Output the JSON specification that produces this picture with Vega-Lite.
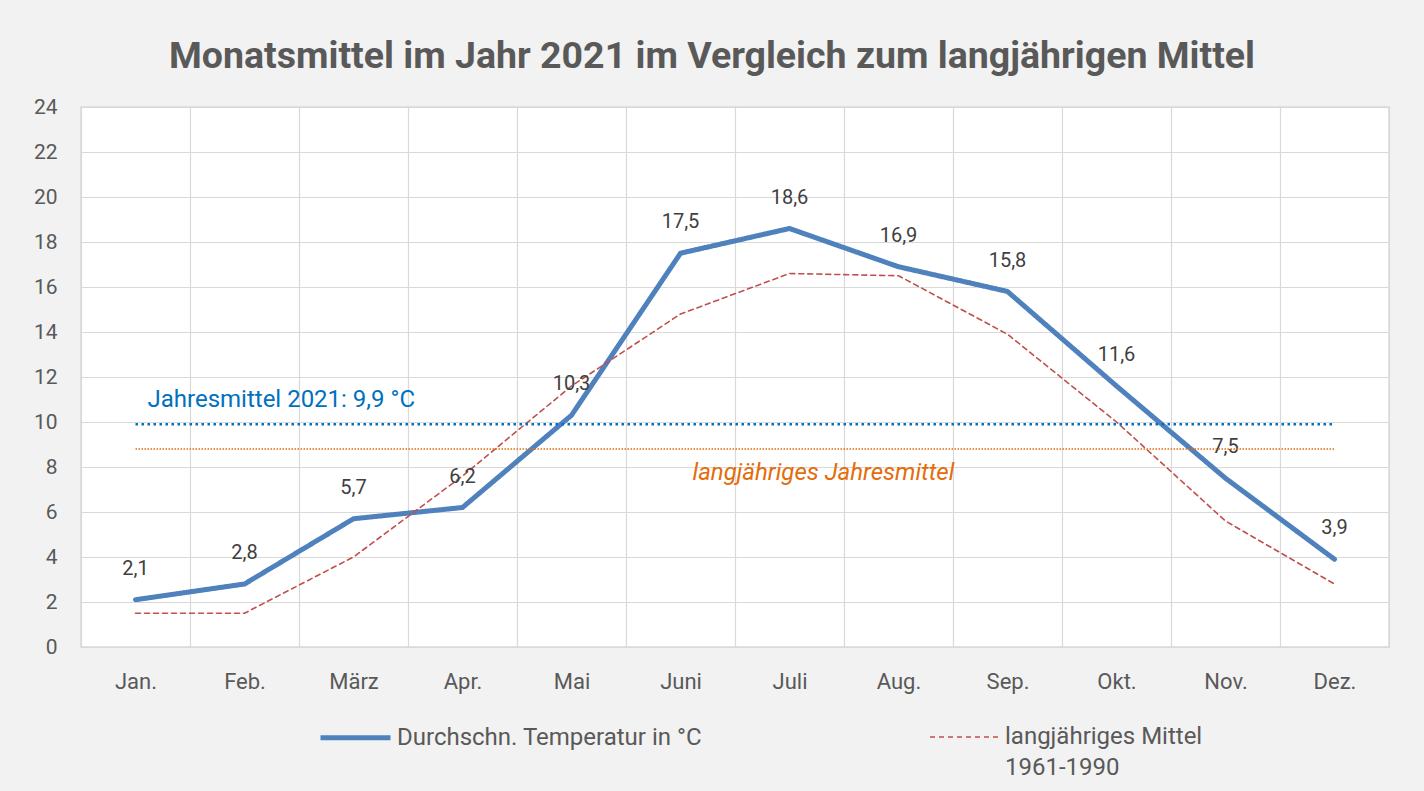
{
  "$schema": "https://vega.github.io/schema/vega-lite/v6.json",
  "width": 1308,
  "height": 540,
  "autosize": {"type": "none"},
  "padding": {"left": 81, "top": 107, "right": 35, "bottom": 144},
  "background": "#F2F2F2",
  "config": {
    "view": {"fill": "white", "stroke": "#D9D9D9", "strokeWidth": 1.5},
    "font": "Roboto",
    "style": {"guide-label": {"lineHeight": 31}},
    "locale": {"number": {"decimal": ",", "thousands": ".", "grouping": [3], "currency": ["", " €"]}},
    "axis": {"gridColor": "#D9D9D9", "gridWidth": 1.2, "domain": false, "ticks": false, "labelColor": "#595959", "labelFontSize": 21, "labelFont": "Roboto", "title": null}
  },
  "title": {
    "text": "Monatsmittel im Jahr 2021 im Vergleich zum langjährigen Mittel",
    "fontSize": 37.5,
    "fontWeight": "bold",
    "color": "#595959",
    "font": "Roboto",
    "anchor": "middle",
    "dx": -23,
    "offset": 21
  },
  "data": {
    "values": [
      {"month": "Jan.", "series": "Durchschn. Temperatur in °C", "value": 2.1},
      {"month": "Feb.", "series": "Durchschn. Temperatur in °C", "value": 2.8},
      {"month": "März", "series": "Durchschn. Temperatur in °C", "value": 5.7},
      {"month": "Apr.", "series": "Durchschn. Temperatur in °C", "value": 6.2},
      {"month": "Mai", "series": "Durchschn. Temperatur in °C", "value": 10.3},
      {"month": "Juni", "series": "Durchschn. Temperatur in °C", "value": 17.5},
      {"month": "Juli", "series": "Durchschn. Temperatur in °C", "value": 18.6},
      {"month": "Aug.", "series": "Durchschn. Temperatur in °C", "value": 16.9},
      {"month": "Sep.", "series": "Durchschn. Temperatur in °C", "value": 15.8},
      {"month": "Okt.", "series": "Durchschn. Temperatur in °C", "value": 11.6},
      {"month": "Nov.", "series": "Durchschn. Temperatur in °C", "value": 7.5},
      {"month": "Dez.", "series": "Durchschn. Temperatur in °C", "value": 3.9},
      {"month": "Jan.", "series": "langjähriges Mittel 1961-1990", "value": 1.5},
      {"month": "Feb.", "series": "langjähriges Mittel 1961-1990", "value": 1.5},
      {"month": "März", "series": "langjähriges Mittel 1961-1990", "value": 4.0},
      {"month": "Apr.", "series": "langjähriges Mittel 1961-1990", "value": 7.6},
      {"month": "Mai", "series": "langjähriges Mittel 1961-1990", "value": 11.6},
      {"month": "Juni", "series": "langjähriges Mittel 1961-1990", "value": 14.8},
      {"month": "Juli", "series": "langjähriges Mittel 1961-1990", "value": 16.6},
      {"month": "Aug.", "series": "langjähriges Mittel 1961-1990", "value": 16.5},
      {"month": "Sep.", "series": "langjähriges Mittel 1961-1990", "value": 13.9},
      {"month": "Okt.", "series": "langjähriges Mittel 1961-1990", "value": 10.0},
      {"month": "Nov.", "series": "langjähriges Mittel 1961-1990", "value": 5.6},
      {"month": "Dez.", "series": "langjähriges Mittel 1961-1990", "value": 2.8}
    ]
  },
  "encoding": {
    "x": {
      "field": "month",
      "type": "nominal",
      "sort": ["Jan.", "Feb.", "März", "Apr.", "Mai", "Juni", "Juli", "Aug.", "Sep.", "Okt.", "Nov.", "Dez."],
      "scale": {"type": "band", "paddingInner": 0, "paddingOuter": 0},
      "axis": {"grid": true, "tickBand": "extent", "labelAngle": 0, "labelPadding": 24, "labelBaseline": "top", "labelFontSize": 22}
    }
  },
  "layer": [
    {
      "mark": {"type": "line", "strokeCap": "round", "strokeJoin": "round"},
      "encoding": {
        "y": {
          "field": "value",
          "type": "quantitative",
          "scale": {"domain": [0, 24], "nice": false, "zero": true},
          "axis": {"values": [0, 2, 4, 6, 8, 10, 12, 14, 16, 18, 20, 22, 24], "labelPadding": 24}
        },
        "color": {
          "field": "series",
          "type": "nominal",
          "scale": {"domain": ["Durchschn. Temperatur in °C", "langjähriges Mittel 1961-1990"], "range": ["#4F81BD", "#C0504D"]},
          "legend": {
            "title": null,
            "orient": "none",
            "legendX": 237,
            "legendY": 593,
            "direction": "horizontal",
            "symbolType": "stroke",
            "symbolSize": 4900,
            "labelFontSize": 24,
            "labelColor": "#595959",
            "labelLimit": 600,
            "labelOffset": 4,
            "columnPadding": 223,
            "labelBaseline": "middle",
            "labelExpr": "datum.label == 'langjähriges Mittel 1961-1990' ? ['langjähriges Mittel', '1961-1990'] : [datum.label, ' ']"
          }
        },
        "strokeDash": {
          "field": "series",
          "type": "nominal",
          "scale": {"domain": ["Durchschn. Temperatur in °C", "langjähriges Mittel 1961-1990"], "range": [[1, 0], [5, 4]]}
        },
        "strokeWidth": {
          "field": "series",
          "type": "nominal",
          "scale": {"domain": ["Durchschn. Temperatur in °C", "langjähriges Mittel 1961-1990"], "range": [5, 1.6]}
        }
      }
    },
    {
      "transform": [{"filter": "datum.series == 'Durchschn. Temperatur in °C'"}],
      "mark": {"type": "text", "dy": -31, "fontSize": 20, "color": "#404040", "font": "Roboto"},
      "encoding": {
        "y": {"field": "value", "type": "quantitative"},
        "text": {"field": "value", "type": "quantitative", "format": ".1f"}
      }
    },
    {
      "data": {"values": [{"label": "Jahresmittel 2021"}]},
      "mark": {"type": "rule", "stroke": "#0070C0", "strokeWidth": 2.5, "strokeDash": [2.5, 3.5]},
      "encoding": {
        "x": {"datum": "Jan."},
        "x2": {"datum": "Dez."},
        "y": {"datum": 9.9}
      }
    },
    {
      "data": {"values": [{"label": "langjähriges Jahresmittel"}]},
      "mark": {"type": "rule", "stroke": "#E46C0A", "strokeWidth": 1.4, "strokeDash": [1.5, 1.5]},
      "encoding": {
        "x": {"datum": "Jan."},
        "x2": {"datum": "Dez."},
        "y": {"datum": 8.8}
      }
    },
    {
      "data": {"values": [{"label": "Jahresmittel 2021: 9,9 °C"}]},
      "mark": {"type": "text", "align": "left", "dx": 12, "fontSize": 24, "color": "#0070C0", "font": "Roboto"},
      "encoding": {
        "x": {"datum": "Jan."},
        "y": {"datum": 11},
        "text": {"field": "label"}
      }
    },
    {
      "data": {"values": [{"label": "langjähriges Jahresmittel"}]},
      "mark": {"type": "text", "align": "left", "dx": 12, "fontSize": 24, "fontStyle": "italic", "color": "#E46C0A", "font": "Roboto"},
      "encoding": {
        "x": {"datum": "Juni"},
        "y": {"datum": 7.75},
        "text": {"field": "label"}
      }
    }
  ]
}
